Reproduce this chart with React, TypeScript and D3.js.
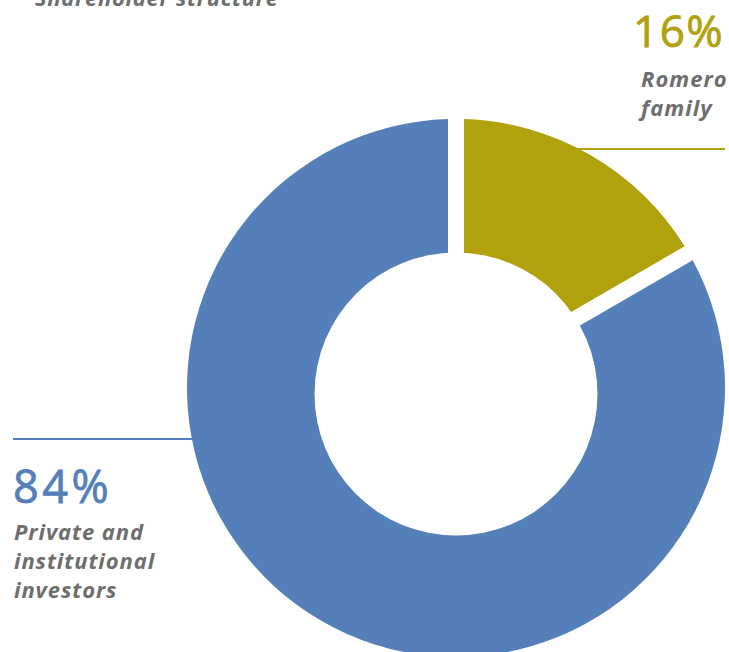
import React from "react";
import * as d3 from "d3";

const categories = ["Romero family", "Private and institutional investors"];
const values = [16, 84];
const percentLabels = ["16%", "84%"];
const labelLines = [["Romero", "family"], ["Private and", "institutional", "investors"]];
const colors = ["#b0a10d", "#557fb9"];
const title = "Shareholder structure";

const W = 729;
const H = 652;
const cx = 456;
const cy = 388;
const R = 269;
const holeCx = 456;
const holeCy = 394;
const holeR = 141.5;
const gap = 16;

export default function App() {
  const pie = d3
    .pie<number>()
    .sort(null)
    .value((d) => d)
    .padAngle(gap / R);
  const arcs = pie(values);
  const arc = d3
    .arc<d3.PieArcDatum<number>>()
    .innerRadius(110)
    .outerRadius(R)
    .padRadius(R);

  const labelFont = "'Open Sans', sans-serif";
  const gray = "#6e6e6e";

  return (
    <svg
      width={W}
      height={H}
      style={{ position: "absolute", left: 0, top: 0, background: "#fff" }}
    >
      {/* leader lines (under slices) */}
      <line x1={560} x2={725} y1={149} y2={149} stroke={colors[0]} strokeWidth={2} />
      <line x1={13} x2={cx} y1={439} y2={439} stroke={colors[1]} strokeWidth={2} />

      <g transform={`translate(${cx},${cy})`}>
        {arcs.map((a, i) => (
          <path key={categories[i]} d={arc(a) || ""} fill={colors[i]} />
        ))}
      </g>
      <circle cx={holeCx} cy={holeCy} r={holeR} fill="#fff" />

      <text
        x={35}
        y={6}
        fontFamily={labelFont}
        fontStyle="italic"
        fontWeight={700}
        fontSize={22}
        letterSpacing={0.7}
        fill={gray}
      >
        {title}
      </text>

      {/* Romero family */}
      <text
        x={724}
        y={47}
        textAnchor="end"
        fontFamily={labelFont}
        fontSize={44}
        letterSpacing={1.4}
        fill={colors[0]}
        stroke={colors[0]}
        strokeWidth={0.8}
      >
        {percentLabels[0]}
      </text>
      {labelLines[0].map((l, j) => (
        <text
          key={l}
          x={641}
          y={87 + j * 29}
          fontFamily={labelFont}
          fontStyle="italic"
          fontWeight={700}
          fontSize={22}
          letterSpacing={1}
          fill={gray}
        >
          {l}
        </text>
      ))}

      {/* Private and institutional investors */}
      <text
        x={13}
        y={503}
        fontFamily={labelFont}
        fontSize={45}
        letterSpacing={3.5}
        fill={colors[1]}
        stroke={colors[1]}
        strokeWidth={0.8}
      >
        {percentLabels[1]}
      </text>
      {labelLines[1].map((l, j) => (
        <text
          key={l}
          x={14}
          y={540 + j * 29}
          fontFamily={labelFont}
          fontStyle="italic"
          fontWeight={700}
          fontSize={22}
          letterSpacing={0.9}
          fill={gray}
        >
          {l}
        </text>
      ))}
    </svg>
  );
}
